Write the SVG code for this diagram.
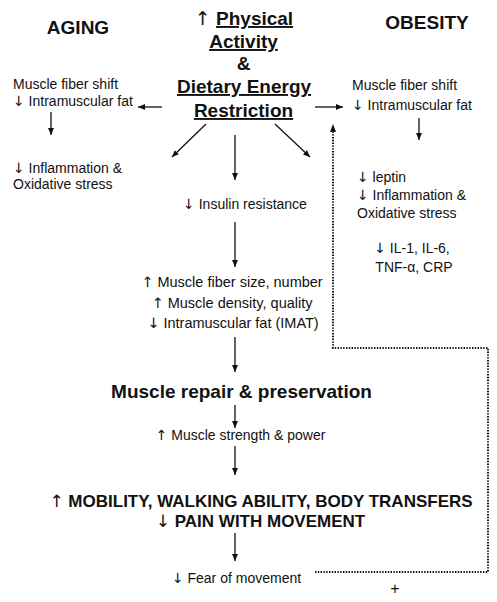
<svg xmlns="http://www.w3.org/2000/svg" width="497" height="602" viewBox="0 0 497 602">
<style>
text{font-family:"Liberation Sans","DejaVu Sans",Arial,sans-serif;fill:#111}
.h{font-size:19px;font-weight:bold}
.t{font-size:14px}
.m{font-size:14.5px}
.b17{font-size:17px;font-weight:bold}
.u{text-decoration:underline}
.c{text-anchor:middle}
.a{font-family:"DejaVu Sans",sans-serif;font-weight:normal}
.ln{stroke:#111;stroke-width:1.3;fill:none}
.dot{stroke:#111;stroke-width:2;fill:none;stroke-dasharray:1.4 1.4}
</style>
<defs>
<marker id="ah" markerUnits="userSpaceOnUse" markerWidth="8" markerHeight="8" refX="7" refY="4" orient="auto">
<path d="M0,1 L7,4 L0,7 Z" fill="#111"/>
</marker>
</defs>
<rect width="497" height="602" fill="#fff"/>

<g id="title">
<text class="h c" x="244" y="25"><tspan class="a">↑</tspan> <tspan class="u">Physical</tspan></text>
<text class="h c" x="243.5" y="48"><tspan class="u">Activity</tspan></text>
<text class="h c" x="243.5" y="70">&amp;</text>
<text class="h c" x="244" y="93"><tspan class="u">Dietary Energy</tspan></text>
<text class="h c" x="243.5" y="117"><tspan class="u">Restriction</tspan></text>
</g>

<g id="aging"><text class="h c" x="78" y="34">AGING</text></g>
<g id="obesity"><text class="h c" x="427" y="29">OBESITY</text></g>

<g id="left-fiber">
<text class="t" x="13" y="89">Muscle fiber shift</text>
<text class="t" x="13" y="106"><tspan class="a">↓</tspan> Intramuscular fat</text>
</g>
<g id="left-inflam">
<text class="t" x="13" y="173"><tspan class="a">↓</tspan> Inflammation &amp;</text>
<text class="t" x="13" y="189">Oxidative stress</text>
</g>

<g id="right-fiber">
<text class="t" x="352" y="90">Muscle fiber shift</text>
<text class="t" x="352" y="110"><tspan class="a">↓</tspan> Intramuscular fat</text>
</g>
<g id="right-inflam">
<text class="t" x="357" y="182"><tspan class="a">↓</tspan> leptin</text>
<text class="t" x="357" y="200"><tspan class="a">↓</tspan> Inflammation &amp;</text>
<text class="t" x="357" y="218">Oxidative stress</text>
<text class="t c" x="412" y="253"><tspan class="a">↓</tspan> IL-1, IL-6,</text>
<text class="t c" x="414" y="272">TNF-α,  CRP</text>
</g>

<g id="insulin"><text class="t c" x="245" y="209"><tspan class="a">↓</tspan> Insulin resistance</text></g>

<g id="muscle-fiber">
<text class="m c" x="232" y="287"><tspan class="a">↑</tspan> Muscle fiber size, number</text>
<text class="m c" x="232" y="308"><tspan class="a">↑</tspan> Muscle density, quality</text>
<text class="m c" x="233" y="328"><tspan class="a">↓</tspan> Intramuscular fat (IMAT)</text>
</g>

<g id="repair"><text class="h c" x="241.5" y="398">Muscle repair &amp; preservation</text></g>
<g id="strength"><text class="t c" x="240.5" y="440"><tspan class="a">↑</tspan> Muscle strength &amp; power</text></g>
<g id="mobility">
<text class="b17 c" x="261" y="507"><tspan class="a">↑</tspan> MOBILITY, WALKING ABILITY, BODY TRANSFERS</text>
<text class="b17 c" x="260.5" y="527"><tspan class="a">↓</tspan> PAIN WITH MOVEMENT</text>
</g>
<g id="fear"><text class="t c" x="236.5" y="583"><tspan class="a">↓</tspan> Fear of movement</text></g>
<g id="plus"><text class="c" x="395" y="594" font-size="16">+</text></g>

<g id="connectors">
<line class="ln" x1="162" y1="107" x2="138" y2="107" marker-end="url(#ah)"/>
<line class="ln" x1="51" y1="112" x2="51" y2="135" marker-end="url(#ah)"/>
<line class="ln" x1="315" y1="107" x2="343" y2="107" marker-end="url(#ah)"/>
<line class="ln" x1="419" y1="118" x2="419" y2="140" marker-end="url(#ah)"/>
<line class="ln" x1="206" y1="124" x2="172" y2="157" marker-end="url(#ah)"/>
<line class="ln" x1="235" y1="135" x2="235" y2="180" marker-end="url(#ah)"/>
<line class="ln" x1="275" y1="124" x2="310" y2="157" marker-end="url(#ah)"/>
<line class="ln" x1="235" y1="222" x2="235" y2="267" marker-end="url(#ah)"/>
<line class="ln" x1="235" y1="337" x2="235" y2="372" marker-end="url(#ah)"/>
<line class="ln" x1="235" y1="405" x2="235" y2="428" marker-end="url(#ah)"/>
<line class="ln" x1="235" y1="446" x2="235" y2="475" marker-end="url(#ah)"/>
<line class="ln" x1="235" y1="533" x2="235" y2="561" marker-end="url(#ah)"/>
<polyline class="dot" points="315,572 488,572 488,348 333,348 333,131"/>
<path d="M333,124 L330,132 L336,132 Z" fill="#111"/>
</g>
</svg>
